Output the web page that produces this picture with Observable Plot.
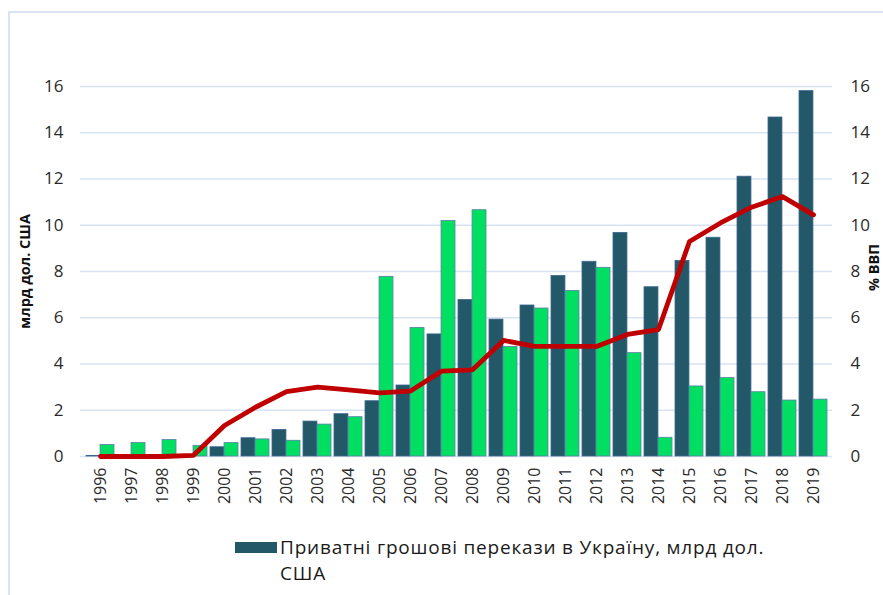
<!DOCTYPE html>
<html>
<head>
<meta charset="utf-8">
<script src="https://cdn.jsdelivr.net/npm/d3@7"></script>
<script src="https://cdn.jsdelivr.net/npm/@observablehq/plot@0.6"></script>
<style>
  html, body { margin: 0; padding: 0; background: #fff; }
  body { width: 883px; height: 595px; position: relative; overflow: hidden; font-family: "Open Sans", sans-serif; }
  #frame { position: absolute; left: 8px; top: 11px; right: -5px; bottom: -5px; border-top: 2px solid #DAE3F3; border-left: 2px solid #DAE3F3; }
  #chart { position: absolute; left: 0; top: 0; }
  #legend { position: absolute; left: 235px; top: 534px; font-size: 19px; color: #1a1a1a; line-height: 26px; }
  #legend .sw { position: absolute; left: 0; top: 8px; width: 42px; height: 11px; background: #235868; }
  #legend .txt { position: absolute; left: 45px; top: 0; white-space: nowrap; letter-spacing: 0.8px; }
</style>
</head>
<body>
<div id="frame"></div>
<div id="chart"></div>
<div id="legend"><div class="sw"></div><div class="txt">Приватні грошові перекази в Україну, млрд дол.<br>США</div></div>
<script>
// Data
const years = ["1996","1997","1998","1999","2000","2001","2002","2003","2004","2005","2006","2007","2008","2009","2010","2011","2012","2013","2014","2015","2016","2017","2018","2019"];
const remittances = [0.02,0,0,0,0.40,0.79,1.15,1.51,1.83,2.39,3.07,5.28,6.77,5.92,6.53,7.81,8.42,9.67,7.32,8.46,9.46,12.10,14.66,15.80];
const secondSeries = [0.50,0.58,0.71,0.46,0.58,0.74,0.68,1.38,1.70,7.77,5.56,10.18,10.65,4.74,6.40,7.16,8.16,4.47,0.81,3.03,3.39,2.78,2.42,2.46];
const pctGDP = [0,0,0,0.05,1.34,2.13,2.81,3.00,2.88,2.75,2.83,3.69,3.75,5.02,4.76,4.76,4.76,5.28,5.49,9.30,10.10,10.78,11.24,10.45];
const yTicks = [0,2,4,6,8,10,12,14,16];
const leftTitle = "млрд дол. США";
const rightTitle = "% ВВП";

const rows = years.map((y, i) => ({year: y, remit: remittances[i], other: secondSeries[i], pct: pctGDP[i]}));

const W = 883, H = 520, mL = 80, mR = 51, mT = 86, mB = 64;
const pad = 0.1;
const step = (W - mL - mR) / (years.length - pad + 2 * pad);
const half = step * (1 - pad) / 2;

const chart = Plot.plot({
  width: W, height: H,
  marginLeft: mL, marginRight: mR, marginTop: mT, marginBottom: mB,
  style: {fontFamily: "Open Sans, sans-serif", color: "#2a2a2a", background: "transparent", overflow: "visible"},
  x: {type: "band", domain: years, padding: pad},
  y: {domain: [0, 16]},
  marks: [
    Plot.gridY(yTicks, {stroke: "#D9E2F3", strokeOpacity: 1, strokeWidth: 1.3}),
    Plot.barY(rows, {x: "year", y: "remit", fill: "#235868", stroke: "#3f6690", strokeWidth: 0.8, insetRight: half}),
    Plot.barY(rows, {x: "year", y: "other", fill: "#00DF62", stroke: "#5a7fa8", strokeWidth: 0.8, insetLeft: half}),
    Plot.line(rows, {x: "year", y: "pct", stroke: "#C00000", strokeWidth: 4.8, strokeLinejoin: "round"}),
    Plot.axisY(yTicks, {anchor: "left", tickSize: 0, tickPadding: 17, fontSize: 17, label: null}),
    Plot.axisY(yTicks, {anchor: "right", tickSize: 0, tickPadding: 18, fontSize: 17, label: null}),
    Plot.axisX({tickSize: 0, tickPadding: 11, tickRotate: -90, fontSize: 16, label: null}),
    Plot.text([leftTitle], {frameAnchor: "left", textAnchor: "middle", dx: -55, dy: 0, rotate: -90, fontSize: 14.5, fontWeight: "bold", fill: "#111"}),
    Plot.text([rightTitle], {frameAnchor: "right", textAnchor: "middle", dx: 42, dy: -4, rotate: -90, fontSize: 14.5, fontWeight: "bold", fill: "#111"})
  ]
});
document.getElementById("chart").appendChild(chart);
</script>
</body>
</html>
